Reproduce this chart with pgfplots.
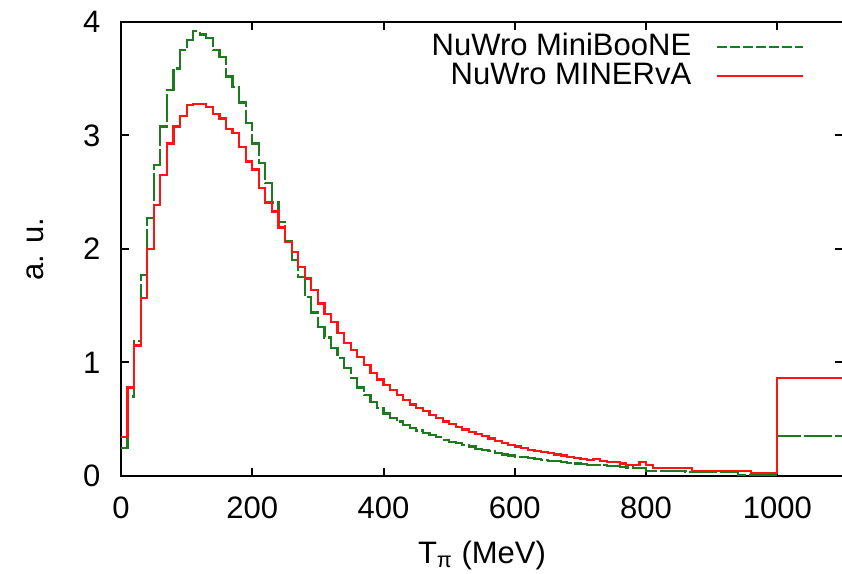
\documentclass[border=0pt]{standalone}
\usepackage{pgfplots}
\pgfplotsset{compat=1.18}
\usepackage{pgfplotstable}
\usepackage{fontspec}
\setmainfont{Liberation Sans}
\definecolor{ngreen}{RGB}{30,122,30}
\definecolor{nred}{RGB}{255,20,20}

\pgfplotstableread{
x y
0 0.25
10 0.70
20 1.19
30 1.77
40 2.27
50 2.74
60 3.08
70 3.40
80 3.59
90 3.75
100 3.84
110 3.92
120 3.89
130 3.86
140 3.75
150 3.69
160 3.52
170 3.43
180 3.29
190 3.11
200 2.93
210 2.76
220 2.58
230 2.41
240 2.24
250 2.07
260 1.90
270 1.75
280 1.58
290 1.44
300 1.31
310 1.22
320 1.13
330 1.04
340 0.95
350 0.86
360 0.78
370 0.71
380 0.65
390 0.60
400 0.55
410 0.51
420 0.48
430 0.45
440 0.42
450 0.40
460 0.38
470 0.36
480 0.34
490 0.32
500 0.30
510 0.29
520 0.27
530 0.26
540 0.24
550 0.23
560 0.22
570 0.20
580 0.19
590 0.18
600 0.17
610 0.165
620 0.16
630 0.15
640 0.14
650 0.135
660 0.13
670 0.12
680 0.115
690 0.11
700 0.105
710 0.10
720 0.10
730 0.095
740 0.09
750 0.085
760 0.08
770 0.075
780 0.07
790 0.07
800 0.047
810 0.047
820 0.047
830 0.047
840 0.047
850 0.047
860 0.033
870 0.033
880 0.033
890 0.033
900 0.033
910 0.033
920 0.033
930 0.033
940 0.012
950 0.012
960 0.012
970 0.012
980 0.012
990 0.012
1000 0.35
1100 0.35
}\greendata

\pgfplotstableread{
x y
0 0.34
10 0.78
20 1.15
30 1.57
40 2.00
50 2.39
60 2.65
70 2.93
80 3.08
90 3.17
100 3.27
110 3.28
120 3.28
130 3.25
140 3.19
150 3.15
160 3.06
170 3.02
180 2.90
190 2.77
200 2.70
210 2.54
220 2.41
230 2.33
240 2.19
250 2.06
260 1.97
270 1.84
280 1.74
290 1.64
300 1.52
310 1.43
320 1.36
330 1.26
340 1.17
350 1.11
360 1.05
370 0.98
380 0.91
390 0.85
400 0.80
410 0.76
420 0.71
430 0.67
440 0.63
450 0.60
460 0.57
470 0.54
480 0.51
490 0.48
500 0.46
510 0.43
520 0.41
530 0.39
540 0.37
550 0.35
560 0.33
570 0.31
580 0.29
590 0.275
600 0.26
610 0.245
620 0.23
630 0.22
640 0.21
650 0.20
660 0.19
670 0.18
680 0.17
690 0.16
700 0.15
710 0.14
720 0.15
730 0.13
740 0.12
750 0.12
760 0.11
770 0.10
780 0.10
790 0.12
800 0.10
810 0.07
820 0.07
830 0.07
840 0.07
850 0.07
860 0.07
870 0.047
880 0.047
890 0.047
900 0.047
910 0.047
920 0.047
930 0.047
940 0.047
950 0.047
960 0.025
970 0.025
980 0.025
990 0.025
1000 0.86
1100 0.86
}\reddata

\begin{document}
\fontsize{15.5}{18}\selectfont
\begin{tikzpicture}
\begin{axis}[
  scale only axis,
  width=361pt, height=227pt,
  xmin=0, xmax=1100, ymin=0, ymax=4,
  xtick={0,200,...,1000}, ytick={0,1,2,3,4},
  minor tick num=0,
  tick align=inside,
  major tick length=4pt,
  axis line style={line width=1pt, black},
  every tick/.style={black, line width=1pt},
  /pgf/number format/assume math mode=true,
  /pgf/number format/1000 sep={},
  ticklabel style={font=\fontsize{15.5}{18}\selectfont},
  xticklabel style={yshift=-5pt},
  yticklabel style={xshift=-5pt},
  xlabel={T\textsubscript{π} (MeV)},
  ylabel={a. u.},
  xlabel style={at={(rel axis cs:0.5,0)}, anchor=center, yshift=-39.5pt},
  ylabel style={at={(rel axis cs:0,0.5)}, anchor=center, yshift=43pt},
  legend plot pos=right,
  legend cell align=right,
  legend style={draw=none, fill=none, at={(axis cs:1041,3.655)}, anchor=east,
    inner sep=0pt, row sep=-2.5pt, font=\fontsize{15.5}{18}\selectfont},
]
\addplot[const plot, ngreen, line width=1.1pt, dash pattern=on 14pt off 1.5pt,
  legend image code/.code={\path (0cm,0cm); \draw[ngreen, line width=1.1pt, dash pattern=on 5pt off 1.5pt] (0.37cm,0cm) -- (1.87cm,0cm);}]
  table[x=x, y=y] {\greendata};
\addlegendentry{NuWro MiniBooNE}
\addplot[const plot, nred, line width=1.1pt,
  legend image code/.code={\path (0cm,0cm); \draw[nred, line width=1.1pt] (0.37cm,0cm) -- (1.87cm,0cm);}]
  table[x=x, y=y] {\reddata};
\addlegendentry{NuWro MINERvA}
\coordinate (bl) at (rel axis cs:0,0);
\coordinate (tr) at (rel axis cs:1,1);
\end{axis}
\pgfresetboundingbox
\path[use as bounding box] ([xshift=-60.5pt,yshift=-49pt]bl) rectangle ([xshift=-0.5pt,yshift=11pt]tr);
\end{tikzpicture}
\end{document}
